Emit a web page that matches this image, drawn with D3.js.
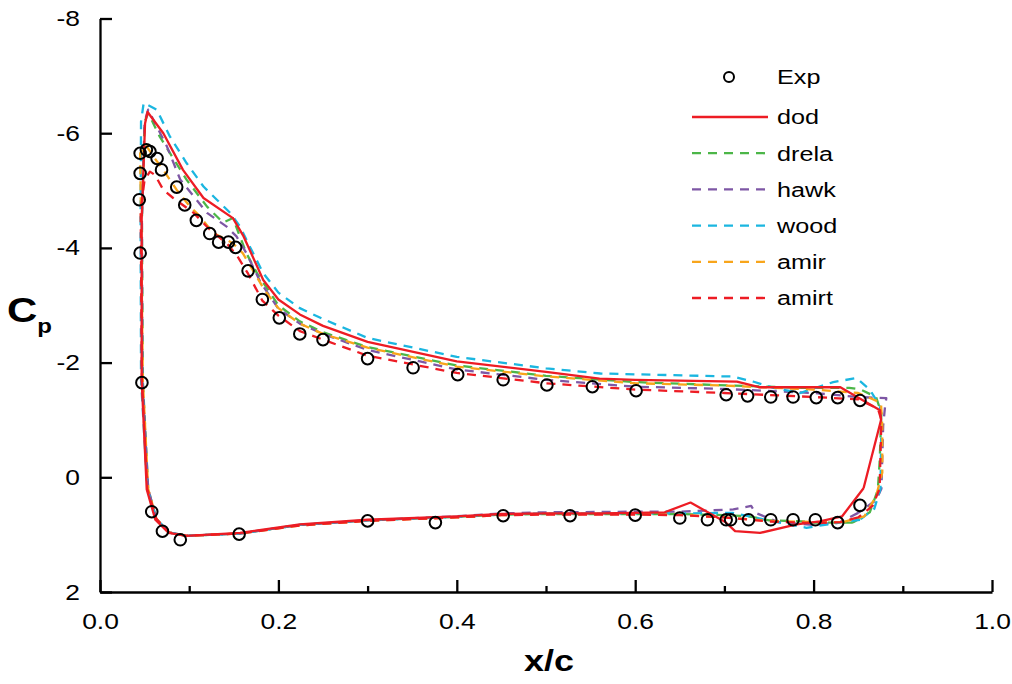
<!DOCTYPE html>
<html><head><meta charset="utf-8">
<script src="https://cdn.jsdelivr.net/npm/d3@7"></script>
<style>
body{margin:0;background:#fff;}
svg{display:block;font-family:"Liberation Sans",Arial,sans-serif;}
</style></head>
<body><svg id="c" width="1012" height="684"></svg>
<script>
// ---- data ----
const xTicks = [0.0, 0.2, 0.4, 0.6, 0.8, 1.0];
const xMinorTicks = [0.1, 0.3, 0.5, 0.7, 0.9];
const yTicks = [-8, -6, -4, -2, 0, 2];
const seriesNames = ["Exp", "dod", "drela", "hawk", "wood", "amir", "amirt"];

const exp = [
 [0.045,-3.91],[0.044,-4.84],[0.045,-5.30],[0.045,-5.65],[0.052,-5.71],[0.056,-5.68],[0.064,-5.56],[0.069,-5.36],
 [0.086,-5.06],[0.095,-4.75],[0.108,-4.48],[0.123,-4.25],[0.133,-4.10],[0.144,-4.10],[0.152,-4.01],[0.166,-3.60],
 [0.182,-3.10],[0.201,-2.78],[0.224,-2.50],[0.250,-2.40],[0.300,-2.07],[0.351,-1.91],[0.401,-1.79],[0.452,-1.70],
 [0.501,-1.61],[0.552,-1.58],[0.601,-1.51],[0.702,-1.44],[0.726,-1.42],[0.752,-1.40],[0.777,-1.40],[0.803,-1.39],
 [0.827,-1.39],[0.852,-1.34],
 [0.047,-1.65],[0.058,0.60],[0.070,0.94],[0.090,1.09],[0.156,0.99],[0.300,0.76],[0.376,0.79],[0.452,0.67],
 [0.527,0.67],[0.600,0.66],[0.650,0.71],[0.681,0.74],[0.702,0.74],[0.707,0.74],[0.727,0.74],[0.752,0.74],
 [0.777,0.74],[0.802,0.74],[0.827,0.79],[0.852,0.49]
];

const dod = [
 [0.856,0.19],[0.832,0.68],[0.807,0.77],[0.781,0.82],[0.740,0.97],[0.712,0.94],[0.701,0.78],[0.662,0.44],
 [0.633,0.61],[0.561,0.63],[0.50,0.63],[0.45,0.64],[0.40,0.68],[0.30,0.74],[0.224,0.82],[0.157,0.97],
 [0.097,1.02],[0.077,0.97],[0.062,0.74],[0.0524,0.21],[0.0467,-1.70],[0.0467,-4.49],[0.0505,-6.17],[0.0533,-6.37],
 [0.071,-6.00],[0.093,-5.36],[0.116,-4.87],[0.149,-4.52],[0.161,-4.20],[0.183,-3.44],[0.20,-3.10],[0.224,-2.84],
 [0.25,-2.64],[0.30,-2.36],[0.40,-2.02],[0.50,-1.84],[0.56,-1.72],[0.60,-1.70],[0.714,-1.67],[0.74,-1.57],
 [0.83,-1.57],[0.8745,-1.17],[0.8756,-1.0],[0.856,0.19]
];

const drela = [
 [0.844,0.79],[0.80,0.79],[0.787,0.77],[0.75,0.75],[0.727,0.68],[0.70,0.66],[0.65,0.64],[0.60,0.64],
 [0.50,0.64],[0.45,0.65],[0.40,0.69],[0.30,0.75],[0.224,0.83],[0.157,0.98],[0.097,1.02],[0.077,0.96],
 [0.063,0.72],[0.054,0.20],[0.048,-1.70],[0.047,-4.50],[0.050,-6.20],[0.0541,-6.35],[0.067,-5.94],[0.097,-5.19],
 [0.120,-4.72],[0.138,-4.44],[0.149,-4.52],[0.164,-3.91],[0.176,-3.56],[0.20,-3.00],[0.224,-2.72],[0.25,-2.53],
 [0.30,-2.27],[0.40,-1.95],[0.50,-1.77],[0.60,-1.66],[0.727,-1.59],[0.787,-1.56],[0.84,-1.56],[0.853,-1.53],
 [0.87,-1.40],[0.876,-1.12],[0.874,-0.26],[0.872,0.22],[0.863,0.61],[0.844,0.79]
];

const hawk = [
 [0.85,0.62],[0.83,0.78],[0.80,0.83],[0.76,0.78],[0.735,0.62],[0.73,0.50],[0.71,0.56],[0.68,0.58],
 [0.65,0.60],[0.60,0.60],[0.50,0.61],[0.45,0.63],[0.40,0.68],[0.30,0.75],[0.224,0.83],[0.157,0.98],
 [0.097,1.02],[0.077,0.96],[0.063,0.72],[0.054,0.20],[0.0475,-1.70],[0.047,-4.50],[0.050,-6.20],[0.054,-6.41],
 [0.075,-5.77],[0.090,-5.19],[0.120,-4.61],[0.142,-4.37],[0.153,-4.20],[0.164,-3.91],[0.18,-3.40],[0.20,-2.94],
 [0.224,-2.68],[0.25,-2.50],[0.30,-2.22],[0.40,-1.88],[0.50,-1.70],[0.60,-1.58],[0.70,-1.54],[0.80,-1.47],
 [0.85,-1.40],[0.8815,-1.38],[0.880,-1.22],[0.878,-0.90],[0.876,0.20],[0.87,0.40],[0.85,0.62]
];

const wood = [
 [0.852,0.74],[0.837,0.77],[0.792,0.88],[0.755,0.77],[0.709,0.62],[0.65,0.63],[0.60,0.63],[0.50,0.63],
 [0.45,0.65],[0.40,0.69],[0.30,0.75],[0.224,0.83],[0.157,0.98],[0.097,1.02],[0.077,0.96],[0.063,0.72],
 [0.053,0.20],[0.046,-1.70],[0.0455,-4.50],[0.046,-6.20],[0.049,-6.53],[0.0636,-6.41],[0.0785,-5.94],[0.097,-5.48],
 [0.116,-5.07],[0.131,-4.84],[0.146,-4.61],[0.157,-4.37],[0.168,-4.02],[0.183,-3.56],[0.20,-3.22],[0.224,-2.95],
 [0.25,-2.76],[0.30,-2.43],[0.40,-2.10],[0.50,-1.90],[0.561,-1.81],[0.70,-1.76],[0.709,-1.76],[0.732,-1.67],
 [0.755,-1.56],[0.785,-1.47],[0.822,-1.66],[0.848,-1.73],[0.863,-1.53],[0.8744,-1.24],[0.876,-0.95],[0.875,0.20],
 [0.868,0.55],[0.852,0.74]
];

const amir = [
 [0.833,0.78],[0.80,0.78],[0.75,0.76],[0.70,0.70],[0.65,0.65],[0.60,0.64],[0.50,0.64],[0.45,0.66],
 [0.40,0.70],[0.30,0.76],[0.224,0.84],[0.157,0.98],[0.097,1.02],[0.077,0.96],[0.063,0.72],[0.054,0.20],
 [0.048,-1.70],[0.046,-4.50],[0.045,-5.65],[0.051,-5.80],[0.060,-5.59],[0.071,-5.36],[0.086,-5.01],[0.101,-4.72],
 [0.112,-4.55],[0.127,-4.26],[0.149,-4.08],[0.160,-3.91],[0.171,-3.62],[0.185,-3.25],[0.20,-2.95],[0.224,-2.68],
 [0.25,-2.50],[0.30,-2.26],[0.40,-1.93],[0.50,-1.76],[0.60,-1.64],[0.70,-1.60],[0.80,-1.53],[0.85,-1.47],
 [0.8755,-1.30],[0.877,-0.90],[0.877,-0.08],[0.870,0.33],[0.857,0.68],[0.833,0.78]
];

const amirt = [
 [0.85,0.70],[0.83,0.78],[0.80,0.80],[0.75,0.77],[0.70,0.70],[0.65,0.66],[0.60,0.65],[0.50,0.65],
 [0.45,0.66],[0.40,0.70],[0.30,0.76],[0.224,0.84],[0.157,0.98],[0.097,1.02],[0.077,0.96],[0.063,0.72],
 [0.053,0.20],[0.047,-1.70],[0.0456,-4.66],[0.050,-5.19],[0.056,-5.33],[0.0617,-5.27],[0.071,-5.01],[0.082,-4.87],
 [0.105,-4.61],[0.123,-4.32],[0.142,-4.08],[0.153,-3.88],[0.166,-3.55],[0.182,-3.08],[0.20,-2.82],[0.224,-2.55],
 [0.25,-2.40],[0.30,-2.12],[0.40,-1.82],[0.50,-1.64],[0.60,-1.53],[0.70,-1.47],[0.80,-1.40],[0.85,-1.36],
 [0.872,-1.20],[0.876,-1.00],[0.874,0.20],[0.866,0.50],[0.85,0.70]
];

const lineSeries = [
 {name:"drela", data:drela, color:"#4cb648", dash:"9,7"},
 {name:"hawk",  data:hawk,  color:"#7e57a5", dash:"9,7"},
 {name:"wood",  data:wood,  color:"#1bb6e0", dash:"9,7"},
 {name:"amir",  data:amir,  color:"#f8a51b", dash:"9,7"},
 {name:"amirt", data:amirt, color:"#ed1c24", dash:"9,7"},
 {name:"dod",   data:dod,   color:"#ed1c24", dash:null}
];
const legendOrder = ["dod","drela","hawk","wood","amir","amirt"];

// ---- chart ----
const svg = d3.select("#c");
const x = d3.scaleLinear().domain([0,1]).range([100,992]);
const y = d3.scaleLinear().domain([-8,2]).range([18.5,592]);
const K = 1.2; // horizontal stretch of the reference's lettering

function stretch(sel){
  sel.each(function(){
    const t = d3.select(this);
    const ax = +(t.attr("x")||0), ay = +(t.attr("y")||0);
    t.attr("transform", `translate(${ax},${ay}) scale(${K},1) translate(${-ax},${-ay})`);
  });
}

const line = d3.line().x(d=>x(d[0])).y(d=>y(d[1]));
const g = svg.append("g");
lineSeries.forEach(s=>{
  g.append("path").attr("d", line(s.data)).attr("fill","none")
   .attr("stroke", s.color).attr("stroke-width", 2.3)
   .attr("stroke-dasharray", s.dash).attr("stroke-linejoin","round");
});
g.selectAll("circle.exp").data(exp).join("circle").attr("class","exp")
  .attr("cx", d=>x(d[0])).attr("cy", d=>y(d[1])).attr("r", 5.8)
  .attr("fill","none").attr("stroke","#000").attr("stroke-width",2);

// axes
const fs = 22;
const xAxis = svg.append("g").attr("transform","translate(0,592)")
  .call(d3.axisBottom(x).tickValues(xTicks).tickFormat(d3.format(".1f")).tickSizeInner(-12).tickSizeOuter(0).tickPadding(21));
const xMinor = svg.append("g").attr("transform","translate(0,592)")
  .call(d3.axisBottom(x).tickValues(xMinorTicks).tickFormat("").tickSizeInner(-6).tickSizeOuter(0));
xMinor.select(".domain").remove();
const yAxis = svg.append("g").attr("transform","translate(100,0)")
  .call(d3.axisLeft(y).tickValues(yTicks).tickFormat(d=>String(d)).tickSizeInner(-12).tickSizeOuter(0).tickPadding(20));
[xAxis,xMinor,yAxis].forEach(a=>{
  a.selectAll("path,line").attr("stroke","#000").attr("stroke-width",2.3);
  a.selectAll("text").attr("font-size",fs).attr("fill","#000").attr("font-family","'Liberation Sans',Arial,sans-serif");
});
stretch(xAxis.selectAll("text"));
stretch(yAxis.selectAll("text"));

// axis titles
const xt = svg.append("text").attr("x",549).attr("y",671).attr("text-anchor","middle")
  .attr("font-size",30).attr("font-weight","bold").text("x/c");
stretch(xt);
const yl = svg.append("text").attr("x",7).attr("y",322).attr("font-size",35).attr("font-weight","bold");
yl.append("tspan").text("C");
yl.append("tspan").attr("font-size",20).attr("dy",11).text("p");
stretch(yl);

// legend
const lg = svg.append("g");
lg.append("circle").attr("cx",729).attr("cy",77).attr("r",5).attr("fill","none").attr("stroke","#000").attr("stroke-width",2);
stretch(lg.append("text").attr("x",777).attr("y",77).attr("dy","0.35em").attr("font-size",21).text(seriesNames[0]));
legendOrder.forEach((n,i)=>{
  const s = lineSeries.find(t=>t.name===n);
  const yy = 117 + i*36.2;
  lg.append("line").attr("x1",692).attr("x2",768).attr("y1",yy).attr("y2",yy)
    .attr("stroke",s.color).attr("stroke-width",2.3).attr("stroke-dasharray",s.dash);
  stretch(lg.append("text").attr("x",777).attr("y",yy).attr("dy","0.35em").attr("font-size",21).text(n));
});
</script></body></html>
